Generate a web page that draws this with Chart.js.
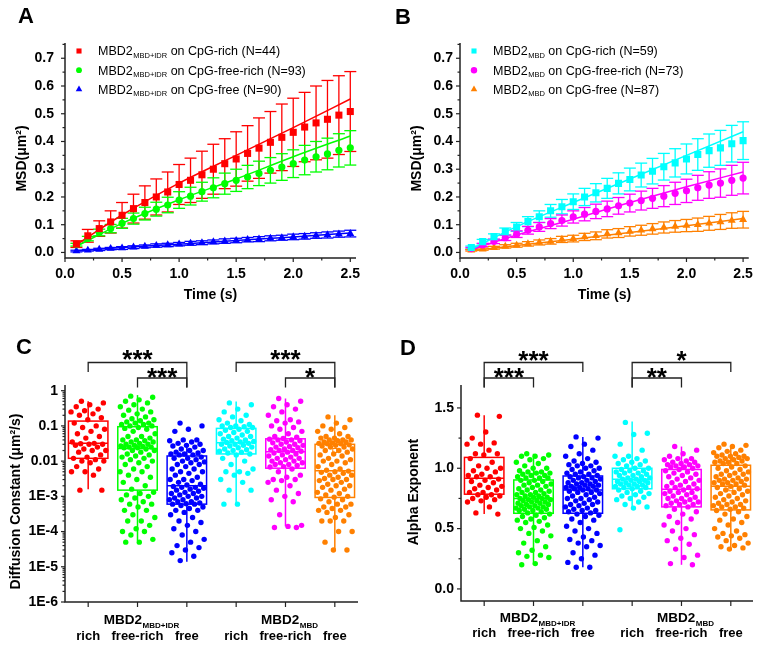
<!DOCTYPE html>
<html>
<head>
<meta charset="utf-8">
<script src="https://cdn.jsdelivr.net/npm/chart.js@4.4.0/dist/chart.umd.min.js"></script>
<style>
  body { margin: 0; background: #fff; }
  #wrap { position: relative; width: 761px; height: 646px; overflow: hidden; }
  #wrap canvas { position: absolute; }
  .panel { position: absolute; font: bold 22px 'Liberation Sans', Arial, sans-serif; line-height: 1; color: #000; }
</style>
</head>
<body>
<div id="wrap">
  <canvas id="chartA" width="380" height="320" style="left:0;top:0"></canvas>
  <canvas id="chartB" width="381" height="320" style="left:380px;top:0"></canvas>
  <canvas id="chartC" width="380" height="326" style="left:0;top:320px"></canvas>
  <canvas id="chartD" width="381" height="326" style="left:380px;top:320px"></canvas>
  <div class="panel" style="left:18px;top:5px">A</div>
  <div class="panel" style="left:395px;top:6px">B</div>
  <div class="panel" style="left:16px;top:336px">C</div>
  <div class="panel" style="left:400px;top:337px">D</div>
</div>
<script>
const FONT = "'Liberation Sans', Arial, Helvetica, sans-serif";
Chart.defaults.font.family = FONT;
Chart.defaults.color = '#000';

const RED = '#ff0000', GREEN = '#00ff00', BLUE = '#0000ff';
const CYAN = '#00ffff', MAGENTA = '#ff00ff', ORANGE = '#ff8000';

// ---------- MSD curves (A, B) ----------
const times = [0.1, 0.2, 0.3, 0.4, 0.5, 0.6, 0.7, 0.8, 0.9, 1.0, 1.1, 1.2, 1.3, 1.4, 1.5, 1.6, 1.7, 1.8, 1.9, 2.0, 2.1, 2.2, 2.3, 2.4, 2.5];
const fitTimes = [0.1, 0.5, 1.0, 1.5, 2.0, 2.5];

const aRichMsd = [0.03, 0.06, 0.086, 0.11, 0.134, 0.158, 0.18, 0.2, 0.218, 0.245, 0.26, 0.28, 0.3, 0.32, 0.337, 0.357, 0.376, 0.397, 0.415, 0.433, 0.452, 0.467, 0.48, 0.495, 0.508];
const aRichErr = [0.012, 0.023, 0.028, 0.04, 0.046, 0.052, 0.06, 0.065, 0.072, 0.072, 0.08, 0.085, 0.09, 0.09, 0.098, 0.1, 0.109, 0.111, 0.12, 0.123, 0.125, 0.133, 0.14, 0.142, 0.144];
const aRichFit = [0.028, 0.135, 0.25, 0.35, 0.45, 0.553];
const aFreeRichMsd = [0.028, 0.05, 0.072, 0.086, 0.105, 0.122, 0.14, 0.156, 0.171, 0.189, 0.203, 0.219, 0.233, 0.248, 0.26, 0.272, 0.285, 0.296, 0.308, 0.32, 0.333, 0.345, 0.355, 0.368, 0.377];
const aFreeRichErr = [0.005, 0.008, 0.012, 0.015, 0.018, 0.02, 0.023, 0.025, 0.028, 0.03, 0.032, 0.034, 0.036, 0.038, 0.04, 0.042, 0.044, 0.046, 0.048, 0.05, 0.053, 0.055, 0.057, 0.06, 0.062];
const aFreeRichFit = [0.022, 0.105, 0.19, 0.265, 0.345, 0.42];
const aFreeMsd = [0.005, 0.008, 0.011, 0.014, 0.016, 0.019, 0.022, 0.025, 0.027, 0.03, 0.033, 0.035, 0.038, 0.041, 0.043, 0.046, 0.048, 0.051, 0.053, 0.056, 0.058, 0.061, 0.063, 0.066, 0.068];
const aFreeErr = [0.003, 0.003, 0.004, 0.004, 0.005, 0.005, 0.005, 0.006, 0.006, 0.006, 0.007, 0.007, 0.007, 0.008, 0.008, 0.008, 0.009, 0.009, 0.009, 0.01, 0.01, 0.01, 0.011, 0.011, 0.012];
const aFreeFit = [0.006, 0.018, 0.03, 0.043, 0.056, 0.07];

const bRichMsd = [0.018, 0.039, 0.057, 0.075, 0.092, 0.111, 0.129, 0.15, 0.165, 0.183, 0.2, 0.215, 0.231, 0.249, 0.263, 0.279, 0.293, 0.309, 0.323, 0.337, 0.353, 0.367, 0.377, 0.392, 0.403];
const bRichErr = [0.005, 0.008, 0.01, 0.013, 0.016, 0.018, 0.021, 0.023, 0.026, 0.028, 0.031, 0.033, 0.036, 0.038, 0.041, 0.043, 0.046, 0.048, 0.051, 0.054, 0.057, 0.06, 0.063, 0.066, 0.068];
const bRichFit = [0.012, 0.093, 0.18, 0.265, 0.35, 0.435];
const bFreeRichMsd = [0.014, 0.027, 0.04, 0.053, 0.066, 0.08, 0.092, 0.104, 0.115, 0.128, 0.138, 0.148, 0.157, 0.168, 0.178, 0.187, 0.195, 0.203, 0.213, 0.222, 0.233, 0.243, 0.25, 0.26, 0.268];
const bFreeRichErr = [0.004, 0.006, 0.008, 0.01, 0.012, 0.014, 0.016, 0.018, 0.02, 0.022, 0.024, 0.026, 0.028, 0.03, 0.032, 0.034, 0.036, 0.038, 0.04, 0.042, 0.045, 0.048, 0.051, 0.054, 0.057];
const bFreeRichFit = [0.01, 0.063, 0.12, 0.18, 0.237, 0.29];
const bFreeMsd = [0.008, 0.012, 0.017, 0.022, 0.026, 0.031, 0.036, 0.04, 0.047, 0.05, 0.056, 0.06, 0.067, 0.07, 0.076, 0.08, 0.085, 0.09, 0.094, 0.097, 0.1, 0.105, 0.11, 0.115, 0.118];
const bFreeErr = [0.003, 0.004, 0.005, 0.006, 0.007, 0.008, 0.009, 0.01, 0.011, 0.012, 0.013, 0.014, 0.015, 0.016, 0.017, 0.018, 0.019, 0.02, 0.021, 0.022, 0.024, 0.025, 0.027, 0.028, 0.03];
const bFreeFit = [0.006, 0.025, 0.048, 0.072, 0.096, 0.122];

// ---------- box plots (C, D) ----------
const catLabels = ['rich', 'free-rich', 'free', 'rich', 'free-rich', 'free'];
const groupNames = ['MBD2', 'MBD2'];
const groupSubs = ['MBD+IDR', 'MBD'];
const groupAt = [1, 4];
const boxColors = [RED, GREEN, BLUE, CYAN, MAGENTA, ORANGE];

const cTickValues = [1e-6, 1e-5, 1e-4, 1e-3, 0.01, 0.1, 1];
const cTickLabels = ['1E-6', '1E-5', '1E-4', '1E-3', '0.01', '0.1', '1'];

const cRichIdr = [0.5, 0.45, 0.4, 0.35, 0.3, 0.27, 0.25, 0.22, 0.2, 0.17, 0.15, 0.12, 0.1, 0.09, 0.08, 0.07, 0.06, 0.05, 0.045, 0.035, 0.032, 0.031, 0.03, 0.03, 0.028, 0.025, 0.022, 0.02, 0.02, 0.018, 0.015, 0.013, 0.012, 0.011, 0.01, 0.01, 0.009, 0.007, 0.006, 0.005, 0.005, 0.004, 0.0015, 0.0015];
const cFreeRichIdr = [0.7, 0.65, 0.55, 0.5, 0.45, 0.4, 0.35, 0.3, 0.28, 0.25, 0.22, 0.2, 0.18, 0.16, 0.15, 0.14, 0.13, 0.12, 0.12, 0.11, 0.11, 0.1, 0.1,
  0.09, 0.085, 0.08, 0.07, 0.06, 0.05, 0.05, 0.045, 0.04, 0.04, 0.038, 0.035, 0.035, 0.032, 0.03, 0.03, 0.028, 0.027, 0.026, 0.025, 0.025, 0.024, 0.024,
  0.022, 0.02, 0.02, 0.018, 0.016, 0.015, 0.014, 0.013, 0.012, 0.011, 0.01, 0.009, 0.008, 0.007, 0.006, 0.005, 0.005, 0.004, 0.0035, 0.003, 0.0025, 0.002, 0.0016,
  0.0013, 0.0012, 0.0011, 0.001, 0.0009, 0.0008, 0.0007, 0.0006, 0.0006, 0.0005, 0.0004, 0.0004, 0.0003, 0.00025, 0.0002, 0.0002, 0.00015, 0.00012, 0.0001, 0.0001, 0.00008, 0.00006, 0.00005, 0.00005];
const cFreeIdr = [0.12, 0.1, 0.08, 0.07, 0.04, 0.04, 0.038, 0.035, 0.032, 0.03, 0.028, 0.027, 0.025, 0.022, 0.02, 0.02, 0.018, 0.017, 0.016, 0.016, 0.015, 0.015,
  0.013, 0.012, 0.012, 0.011, 0.01, 0.0095, 0.009, 0.008, 0.008, 0.007, 0.006, 0.006, 0.005, 0.005, 0.0045, 0.004, 0.0035, 0.003, 0.003, 0.0028, 0.0025, 0.0022, 0.0021,
  0.0019, 0.0018, 0.0018, 0.0017, 0.0016, 0.0015, 0.0014, 0.0013, 0.0012, 0.0012, 0.0011, 0.001, 0.001, 0.0009, 0.0009, 0.0008, 0.0008, 0.0007, 0.0007, 0.00065, 0.00062, 0.0006, 0.0006,
  0.00055, 0.0005, 0.00045, 0.0004, 0.0004, 0.00035, 0.0003, 0.00025, 0.0002, 0.00018, 0.00015, 0.00012, 0.0001, 0.00008, 0.00006, 0.00005, 0.00004, 0.000035, 0.00003, 0.000025, 0.00002, 0.000015];
const cRichMbd = [0.45, 0.4, 0.3, 0.25, 0.2, 0.18, 0.15, 0.14, 0.12, 0.11, 0.1, 0.1, 0.095, 0.09, 0.09,
  0.08, 0.075, 0.07, 0.065, 0.06, 0.055, 0.05, 0.05, 0.045, 0.042, 0.04, 0.038, 0.036, 0.035, 0.034,
  0.032, 0.03, 0.03, 0.028, 0.027, 0.025, 0.024, 0.022, 0.021, 0.02, 0.019, 0.018, 0.017, 0.016, 0.015,
  0.012, 0.01, 0.008, 0.006, 0.005, 0.005, 0.0045, 0.004, 0.003, 0.0025, 0.0015, 0.0015, 0.0006, 0.0006];
const cFreeRichMbd = [0.6, 0.5, 0.4, 0.35, 0.3, 0.25, 0.2, 0.15, 0.14, 0.13, 0.12, 0.1, 0.09, 0.08, 0.07, 0.06, 0.05, 0.048,
  0.044, 0.042, 0.04, 0.04, 0.038, 0.035, 0.033, 0.03, 0.03, 0.028, 0.026, 0.025, 0.024, 0.022, 0.021, 0.02, 0.02, 0.019,
  0.018, 0.017, 0.016, 0.015, 0.014, 0.013, 0.012, 0.012, 0.011, 0.01, 0.01, 0.009, 0.009, 0.008, 0.008, 0.0075, 0.007, 0.0068,
  0.006, 0.005, 0.004, 0.0035, 0.003, 0.003, 0.0028, 0.0025, 0.002, 0.0015, 0.0012, 0.001, 0.0008, 0.0007, 0.0003, 0.00015, 0.00014, 0.00013, 0.00013];
const cFreeMbd = [0.18, 0.15, 0.12, 0.1, 0.09, 0.08, 0.07, 0.06, 0.05, 0.05, 0.045, 0.045, 0.04, 0.04, 0.04, 0.038, 0.035, 0.035, 0.033, 0.032, 0.031, 0.031,
  0.029, 0.028, 0.027, 0.025, 0.025, 0.022, 0.02, 0.02, 0.018, 0.016, 0.015, 0.014, 0.012, 0.011, 0.01, 0.01, 0.009, 0.008, 0.007, 0.006, 0.0055, 0.0052,
  0.005, 0.0048, 0.0045, 0.004, 0.004, 0.0035, 0.0032, 0.003, 0.003, 0.0028, 0.0025, 0.0022, 0.002, 0.002, 0.0018, 0.0016, 0.0015, 0.0013, 0.0012, 0.0011, 0.001, 0.00095,
  0.00085, 0.0008, 0.0007, 0.0006, 0.0006, 0.0005, 0.0005, 0.00045, 0.0004, 0.0004, 0.00035, 0.0003, 0.00025, 0.0002, 0.0002, 0.0002, 0.0001, 0.0001, 0.00005, 0.00003, 0.00003];

const cQ1 = [0.012, 0.0015, 0.0006, 0.016, 0.0063, 0.00093];
const cMedian = [0.032, 0.023, 0.002, 0.033, 0.0185, 0.0053];
const cQ3 = [0.137, 0.095, 0.014, 0.085, 0.043, 0.03];
const cLow = [0.0016, 0.000054, 0.000014, 0.0006, 0.00014, 0.000028];
const cHigh = [0.5, 0.75, 0.032, 0.49, 0.6, 0.2];
const cMean = [null, null, null, null, null, 0.02];

const dRichIdr = [1.44, 1.43, 1.3, 1.25, 1.21, 1.2, 1.2, 1.15, 1.12, 1.12, 1.11,
  1.08, 1.05, 1.02, 1.0, 1.0, 0.98, 0.97, 0.95, 0.94, 0.93, 0.93,
  0.91, 0.9, 0.89, 0.88, 0.86, 0.85, 0.84, 0.83, 0.82, 0.8, 0.8,
  0.78, 0.78, 0.77, 0.76, 0.75, 0.74, 0.73, 0.72, 0.68, 0.63, 0.62];
const dFreeRichIdr = [1.12, 1.11, 1.1, 1.1, 1.08, 1.07, 1.05, 1.04, 1.02, 1.0, 1.0, 0.98, 0.97, 0.97, 0.96, 0.96, 0.95, 0.94, 0.94, 0.93, 0.92, 0.92, 0.92,
  0.9, 0.9, 0.89, 0.88, 0.87, 0.86, 0.86, 0.85, 0.84, 0.83, 0.82, 0.82, 0.81, 0.8, 0.8, 0.79, 0.78, 0.78, 0.77, 0.77, 0.76, 0.76, 0.75,
  0.75, 0.74, 0.74, 0.73, 0.73, 0.72, 0.72, 0.71, 0.71, 0.7, 0.7, 0.69, 0.69, 0.68, 0.68, 0.67, 0.67, 0.66, 0.66, 0.65, 0.65, 0.64, 0.63,
  0.62, 0.61, 0.6, 0.59, 0.58, 0.57, 0.56, 0.55, 0.53, 0.51, 0.5, 0.48, 0.46, 0.44, 0.4, 0.38, 0.35, 0.32, 0.3, 0.28, 0.27, 0.26, 0.21, 0.2];
const dFreeIdr = [1.26, 1.25, 1.2, 1.18, 1.15, 1.12, 1.1, 1.08, 1.06, 1.05, 1.04, 1.03, 1.02, 1.02, 1.0, 1.0, 0.99, 0.98, 0.97, 0.96, 0.95, 0.95,
  0.94, 0.93, 0.93, 0.92, 0.92, 0.91, 0.9, 0.9, 0.89, 0.88, 0.88, 0.87, 0.87, 0.86, 0.86, 0.85, 0.85, 0.84, 0.84, 0.83, 0.83, 0.82, 0.82,
  0.81, 0.8, 0.8, 0.79, 0.78, 0.77, 0.76, 0.75, 0.75, 0.74, 0.73, 0.72, 0.71, 0.7, 0.7, 0.69, 0.68, 0.67, 0.66, 0.65, 0.65, 0.64, 0.63,
  0.62, 0.61, 0.6, 0.58, 0.57, 0.55, 0.52, 0.5, 0.48, 0.46, 0.43, 0.41, 0.4, 0.38, 0.36, 0.35, 0.3, 0.28, 0.25, 0.22, 0.18, 0.18];
const dRichMbd = [1.38, 1.29, 1.28, 1.2, 1.15, 1.1, 1.1, 1.08, 1.07, 1.06, 1.05, 1.04, 1.03, 1.02,
  1.0, 1.0, 0.99, 0.98, 0.98, 0.97, 0.96, 0.96, 0.95, 0.94, 0.94, 0.93, 0.92, 0.92, 0.91,
  0.91, 0.9, 0.9, 0.89, 0.89, 0.88, 0.88, 0.87, 0.87, 0.86, 0.86, 0.85, 0.85, 0.84, 0.84,
  0.83, 0.82, 0.81, 0.8, 0.79, 0.78, 0.77, 0.76, 0.75, 0.74, 0.72, 0.7, 0.68, 0.67, 0.49];
const dFreeRichMbd = [1.18, 1.15, 1.12, 1.1, 1.08, 1.08, 1.07, 1.06, 1.05, 1.05, 1.04, 1.03, 1.03, 1.02, 1.02, 1.01, 1.01, 1.0,
  0.99, 0.98, 0.97, 0.96, 0.95, 0.94, 0.93, 0.92, 0.91, 0.9, 0.89, 0.88, 0.87, 0.86, 0.85, 0.84, 0.84, 0.83,
  0.82, 0.81, 0.8, 0.8, 0.79, 0.78, 0.77, 0.76, 0.75, 0.75, 0.74, 0.73, 0.72, 0.72, 0.71, 0.7, 0.7, 0.69,
  0.68, 0.66, 0.64, 0.62, 0.6, 0.58, 0.55, 0.53, 0.5, 0.48, 0.45, 0.42, 0.4, 0.37, 0.33, 0.28, 0.26, 0.21, 0.2];
const dFreeMbd = [1.2, 1.19, 1.18, 1.17, 1.15, 1.14, 1.13, 1.12, 1.11, 1.1, 1.1, 1.1, 1.09, 1.08, 1.08, 1.07, 1.06, 1.06, 1.05, 1.05, 1.04, 1.04,
  1.02, 1.01, 1.0, 0.99, 0.98, 0.97, 0.96, 0.95, 0.95, 0.94, 0.93, 0.92, 0.91, 0.91, 0.9, 0.9, 0.89, 0.88, 0.88, 0.87, 0.87, 0.86,
  0.85, 0.84, 0.83, 0.82, 0.81, 0.8, 0.79, 0.78, 0.77, 0.76, 0.75, 0.74, 0.73, 0.72, 0.71, 0.7, 0.7, 0.69, 0.68, 0.68, 0.67, 0.66,
  0.65, 0.64, 0.62, 0.6, 0.58, 0.57, 0.55, 0.53, 0.5, 0.48, 0.46, 0.45, 0.44, 0.43, 0.42, 0.4, 0.38, 0.36, 0.35, 0.34, 0.33];

const dQ1 = [0.785, 0.627, 0.627, 0.83, 0.68, 0.655];
const dMedian = [0.917, 0.75, 0.82, 0.909, 0.826, 0.85];
const dQ3 = [1.09, 0.903, 0.936, 1.0, 0.99, 1.025];
const dLow = [0.62, 0.2, 0.18, 0.66, 0.2, 0.32];
const dHigh = [1.44, 1.12, 1.26, 1.387, 1.18, 1.19];
const dMean = [null, null, null, null, null, 0.83];

// significance brackets: from / to category, row (0 = upper), label
const cBrFrom = [0, 1, 3, 4];
const cBrTo = [2, 2, 5, 5];
const cBrRow = [0, 1, 0, 1];
const cBrText = ['***', '***', '***', '*'];
const dBrFrom = [0, 0, 3, 3];
const dBrTo = [2, 1, 5, 4];
const dBrRow = [0, 1, 0, 1];
const dBrText = ['***', '***', '*', '**'];

// ---------- drawing helpers ----------
function drawMarker(ctx, style, x, y, r) {
  ctx.beginPath();
  if (style === 'rect') {
    const s = r * Math.SQRT1_2;
    ctx.rect(x - s, y - s, 2 * s, 2 * s);
  } else if (style === 'triangle') {
    ctx.moveTo(x, y - r);
    ctx.lineTo(x + r * 0.866, y + r * 0.5);
    ctx.lineTo(x - r * 0.866, y + r * 0.5);
    ctx.closePath();
  } else {
    ctx.arc(x, y, r, 0, Math.PI * 2);
  }
  ctx.fill();
}

function seg(ctx, x1, y1, x2, y2) {
  ctx.beginPath();
  ctx.moveTo(x1, y1);
  ctx.lineTo(x2, y2);
  ctx.stroke();
}

// text with a subscript part; returns nothing, draws from x (left aligned)
function subText(ctx, x, base, main, sub, rest, size, subSize, subDy, weight) {
  ctx.textAlign = 'left';
  ctx.textBaseline = 'alphabetic';
  ctx.font = weight + ' ' + size + 'px ' + FONT;
  ctx.fillText(main, x, base);
  x += ctx.measureText(main).width + 0.5;
  ctx.font = weight + ' ' + subSize + 'px ' + FONT;
  ctx.fillText(sub, x, base + subDy);
  x += ctx.measureText(sub).width;
  if (rest) {
    ctx.font = weight + ' ' + size + 'px ' + FONT;
    ctx.fillText(rest, x, base);
  }
}

function subTextWidth(ctx, main, sub, size, subSize, weight) {
  ctx.font = weight + ' ' + size + 'px ' + FONT;
  let w = ctx.measureText(main).width + 0.5;
  ctx.font = weight + ' ' + subSize + 'px ' + FONT;
  return w + ctx.measureText(sub).width;
}

function linearMinor(scale) {
  const vals = scale.ticks.map(t => t.value);
  const step = vals[1] - vals[0];
  const out = [];
  vals.forEach(v => {
    [v - step / 2, v + step / 2].forEach(m => {
      if (m >= scale.min && m <= scale.max && !out.some(o => Math.abs(o - m) < 1e-9)) out.push(m);
    });
  });
  return out;
}

function logMinor(scale) {
  const out = [];
  scale.ticks.forEach(t => {
    for (let k = 2; k <= 9; k++) {
      const m = t.value * k;
      if (m <= scale.max) out.push(m);
    }
  });
  return out;
}

// axis lines, tick marks and axis titles
const framePlugin = {
  id: 'frame',
  afterDraw(chart) {
    const o = chart.options.plugins.frame;
    const { ctx, chartArea: a } = chart;
    const x = chart.scales.x, y = chart.scales.y;
    ctx.save();
    ctx.strokeStyle = '#222';
    ctx.lineWidth = 1.5;
    ctx.beginPath();
    ctx.moveTo(a.left, a.top);
    ctx.lineTo(a.left, a.bottom);
    ctx.lineTo(a.right, a.bottom);
    ctx.stroke();
    ctx.lineWidth = 1.2;
    y.ticks.forEach(t => { const p = y.getPixelForValue(t.value); seg(ctx, a.left - 4, p, a.left, p); });
    (o.logY ? logMinor(y) : linearMinor(y)).forEach(v => { const p = y.getPixelForValue(v); seg(ctx, a.left - 2.5, p, a.left, p); });
    if (o.xTicks) {
      x.ticks.forEach(t => { const p = x.getPixelForValue(t.value); seg(ctx, p, a.bottom, p, a.bottom + 4); });
      linearMinor(x).forEach(v => { const p = x.getPixelForValue(v); seg(ctx, p, a.bottom, p, a.bottom + 2.5); });
    }
    ctx.fillStyle = '#000';
    ctx.font = 'bold 14px ' + FONT;
    ctx.textAlign = 'center';
    ctx.textBaseline = 'middle';
    if (o.xTitle) ctx.fillText(o.xTitle, (a.left + a.right) / 2, a.bottom + o.xTitleDy);
    ctx.translate(a.left - o.yTitleDx, (a.top + a.bottom) / 2 + o.yTitleDy);
    ctx.rotate(-Math.PI / 2);
    ctx.fillText(o.yTitle, 0, 0);
    ctx.restore();
  }
};

// error bars for the MSD points
const errorBarPlugin = {
  id: 'errbars',
  beforeDatasetsDraw(chart) {
    const { ctx } = chart;
    const x = chart.scales.x, y = chart.scales.y;
    ctx.save();
    ctx.lineWidth = 1.3;
    chart.data.datasets.forEach(ds => {
      if (!ds.errors) return;
      ctx.strokeStyle = ds.borderColor;
      ds.data.forEach((pt, i) => {
        const px = x.getPixelForValue(pt.x);
        const hi = y.getPixelForValue(pt.y + ds.errors[i]);
        const lo = y.getPixelForValue(pt.y - ds.errors[i]);
        seg(ctx, px, hi, px, lo);
        seg(ctx, px - 6, hi, px + 6, hi);
        seg(ctx, px - 6, lo, px + 6, lo);
      });
    });
    ctx.restore();
  }
};

// legend with subscripts
const msdLegendPlugin = {
  id: 'msdLegend',
  afterDraw(chart) {
    const items = chart.options.plugins.msdLegend.items;
    const { ctx, chartArea: a } = chart;
    ctx.save();
    items.forEach((s, i) => {
      const rowY = a.top + 8 + i * 19.2;
      ctx.fillStyle = s.color;
      drawMarker(ctx, s.style, a.left + 14, rowY, s.legendR);
      ctx.fillStyle = '#000';
      subText(ctx, a.left + 33, rowY + 4.3, s.main, s.sub, s.rest, 12.5, 7.5, 2.5, 'normal');
    });
    ctx.restore();
  }
};

// boxes, category axis, brackets
const boxPlugin = {
  id: 'boxes',
  afterDatasetsDraw(chart) {
    const o = chart.options.plugins.boxes;
    const { ctx, chartArea: a } = chart;
    const x = chart.scales.x, y = chart.scales.y;
    const hw = x.getPixelForValue(0.4) - x.getPixelForValue(0);
    ctx.save();
    ctx.lineWidth = 1.5;
    o.q1.forEach((q1, g) => {
      const cx = x.getPixelForValue(g);
      const top = y.getPixelForValue(o.q3[g]);
      const bot = y.getPixelForValue(q1);
      const med = y.getPixelForValue(o.median[g]);
      ctx.strokeStyle = o.colors[g];
      ctx.strokeRect(cx - hw, top, 2 * hw, bot - top);
      seg(ctx, cx - hw, med, cx + hw, med);
      seg(ctx, cx, top, cx, y.getPixelForValue(o.high[g]));
      seg(ctx, cx, bot, cx, y.getPixelForValue(o.low[g]));
      if (o.mean[g] !== null) {
        const my = y.getPixelForValue(o.mean[g]);
        ctx.lineWidth = 1;
        ctx.strokeRect(cx - 2, my - 2, 4, 4);
        ctx.lineWidth = 1.5;
      }
    });
    ctx.restore();
  },
  afterDraw(chart) {
    const o = chart.options.plugins.boxes;
    const { ctx, chartArea: a } = chart;
    const x = chart.scales.x;
    ctx.save();
    ctx.strokeStyle = '#222';
    ctx.fillStyle = '#000';
    ctx.lineWidth = 1.2;
    catLabels.forEach((lab, i) => {
      const px = x.getPixelForValue(i);
      seg(ctx, px, a.bottom, px, a.bottom + 5);
      ctx.font = 'bold 13px ' + FONT;
      ctx.textAlign = 'center';
      ctx.textBaseline = 'alphabetic';
      ctx.fillText(lab, px, a.bottom + o.catDy);
    });
    groupAt.forEach((g, i) => {
      const w = subTextWidth(ctx, groupNames[i], groupSubs[i], 13.5, 8, 'bold');
      subText(ctx, x.getPixelForValue(g) - w / 2 + 4, a.bottom + o.groupDy, groupNames[i], groupSubs[i], '', 13.5, 8, 4, 'bold');
    });
    // brackets
    const rowY = [a.top - 22.5, a.top - 7];
    const drop = 9.5;
    ctx.lineWidth = 1.3;
    o.brFrom.forEach((f, i) => {
      const t = o.brTo[i];
      const ly = rowY[o.brRow[i]];
      const x1 = x.getPixelForValue(f), x2 = x.getPixelForValue(t);
      const endFor = idx => {
        const shared = o.brRow[i] === 0 && o.brFrom.some((ff, j) => o.brRow[j] === 1 && (ff === idx || o.brTo[j] === idx));
        return shared ? rowY[1] + drop : ly + drop;
      };
      ctx.beginPath();
      ctx.moveTo(x1, endFor(f));
      ctx.lineTo(x1, ly);
      ctx.lineTo(x2, ly);
      ctx.lineTo(x2, endFor(t));
      ctx.stroke();
      ctx.font = 'bold 26px ' + FONT;
      ctx.textAlign = 'center';
      ctx.textBaseline = 'alphabetic';
      ctx.fillText(o.brText[i], (x1 + x2) / 2, ly - o.starGap[o.brRow[i]] + 14.5);
    });
    ctx.restore();
  }
};

// ---------- chart builders ----------
function msdChart(id, series, yAxisWidth, rightPad, yLabelPad) {
  const datasets = [];
  series.forEach(s => {
    datasets.push({
      type: 'line', showLine: true, order: 2,
      data: fitTimes.map((t, i) => ({ x: t, y: s.fit[i] })),
      borderColor: s.color, borderWidth: 1.5, pointRadius: 0, fill: false,
      cubicInterpolationMode: 'monotone'
    });
  });
  series.forEach(s => {
    datasets.push({
      type: 'scatter', order: 1,
      data: times.map((t, i) => ({ x: t, y: s.msd[i] })),
      errors: s.err,
      pointStyle: s.style, pointRadius: s.r,
      backgroundColor: s.color, borderColor: s.color, pointBorderWidth: 0
    });
  });
  return new Chart(document.getElementById(id), {
    type: 'scatter',
    data: { datasets },
    plugins: [errorBarPlugin, framePlugin, msdLegendPlugin],
    options: {
      responsive: false, animation: false, events: [],
      layout: { padding: { left: 0, top: 43, right: rightPad, bottom: 0 } },
      scales: {
        x: {
          type: 'linear', min: 0, max: 2.55,
          grid: { display: false, drawTicks: false }, border: { display: false },
          ticks: { stepSize: 0.5, includeBounds: false, autoSkip: false, maxRotation: 0, padding: 8,
                   font: { size: 14, weight: 'bold' }, color: '#000', callback: v => v.toFixed(1) },
          afterFit: s => { s.height = 62; }
        },
        y: {
          type: 'linear', min: -0.02, max: 0.755,
          grid: { display: false, drawTicks: false }, border: { display: false },
          ticks: { stepSize: 0.1, includeBounds: false, autoSkip: false, padding: yLabelPad,
                   font: { size: 14, weight: 'bold' }, color: '#000', callback: v => v.toFixed(1) },
          afterFit: s => { s.width = yAxisWidth; }
        }
      },
      plugins: {
        legend: { display: false }, tooltip: { enabled: false },
        frame: { xTicks: true, xTitle: 'Time (s)', xTitleDy: 37, yTitle: 'MSD(\u03bcm\u00b2)', yTitleDx: 43, yTitleDy: 8 },
        msdLegend: { items: series }
      }
    }
  });
}

function jitter(i) {
  return (((i + 0.5) * 0.6180339887) % 1 - 0.5) * 0.72;
}

function boxChart(id, groups, stats, yScale, frame, layout) {
  const datasets = groups.map((vals, g) => ({
    type: 'scatter',
    data: vals.map((v, i) => ({ x: g + jitter(i), y: v })),
    pointStyle: 'circle', pointRadius: 2.7,
    backgroundColor: boxColors[g], borderColor: boxColors[g], pointBorderWidth: 0
  }));
  return new Chart(document.getElementById(id), {
    type: 'scatter',
    data: { datasets },
    plugins: [boxPlugin, framePlugin],
    options: {
      responsive: false, animation: false, events: [],
      layout: { padding: layout.padding },
      scales: {
        x: { type: 'linear', min: -0.47, max: layout.xMax, display: false },
        y: Object.assign({
          grid: { display: false, drawTicks: false }, border: { display: false },
          afterFit: s => { s.width = layout.yWidth; }
        }, yScale)
      },
      plugins: {
        legend: { display: false }, tooltip: { enabled: false },
        frame: frame,
        boxes: Object.assign({ colors: boxColors }, stats)
      }
    }
  });
}

// ---------- build ----------
msdChart('chartA', [
  { main: 'MBD2', sub: 'MBD+IDR', rest: ' on CpG-rich (N=44)', color: RED, style: 'rect', r: 5, legendR: 3.6, msd: aRichMsd, err: aRichErr, fit: aRichFit },
  { main: 'MBD2', sub: 'MBD+IDR', rest: ' on CpG-free-rich (N=93)', color: GREEN, style: 'circle', r: 3.6, legendR: 2.9, msd: aFreeRichMsd, err: aFreeRichErr, fit: aFreeRichFit },
  { main: 'MBD2', sub: 'MBD+IDR', rest: ' on CpG-free (N=90)', color: BLUE, style: 'triangle', r: 4.6, legendR: 3.8, msd: aFreeMsd, err: aFreeErr, fit: aFreeFit }
], 65, 24, 11);

msdChart('chartB', [
  { main: 'MBD2', sub: 'MBD', rest: ' on CpG-rich (N=59)', color: CYAN, style: 'rect', r: 5, legendR: 3.6, msd: bRichMsd, err: bRichErr, fit: bRichFit },
  { main: 'MBD2', sub: 'MBD', rest: ' on CpG-free-rich (N=73)', color: MAGENTA, style: 'circle', r: 3.6, legendR: 3.2, msd: bFreeRichMsd, err: bFreeRichErr, fit: bFreeRichFit },
  { main: 'MBD2', sub: 'MBD', rest: ' on CpG-free (N=87)', color: ORANGE, style: 'triangle', r: 4.6, legendR: 3.8, msd: bFreeMsd, err: bFreeErr, fit: bFreeFit }
], 80, 9, 7);

boxChart('chartC',
  [cRichIdr, cFreeRichIdr, cFreeIdr, cRichMbd, cFreeRichMbd, cFreeMbd],
  { q1: cQ1, median: cMedian, q3: cQ3, low: cLow, high: cHigh, mean: cMean,
    brFrom: cBrFrom, brTo: cBrTo, brRow: cBrRow, brText: cBrText, starGap: [9.5, 6.5], catDy: 38, groupDy: 22 },
  {
    type: 'logarithmic', min: 1e-6, max: 1.45,
    afterBuildTicks: s => { s.ticks = cTickValues.map(v => ({ value: v })); },
    ticks: { autoSkip: false, padding: 7, font: { size: 14, weight: 'bold' }, color: '#000',
             callback: (v, i) => cTickLabels[i] }
  },
  { logY: true, xTicks: false, yTitle: 'Diffusion Constant (\u03bcm\u00b2/s)', yTitleDx: 49, yTitleDy: 8 },
  { padding: { left: 0, top: 65, right: 22, bottom: 44 }, yWidth: 65, xMax: 5.47 });

boxChart('chartD',
  [dRichIdr, dFreeRichIdr, dFreeIdr, dRichMbd, dFreeRichMbd, dFreeMbd],
  { q1: dQ1, median: dMedian, q3: dQ3, low: dLow, high: dHigh, mean: dMean,
    brFrom: dBrFrom, brTo: dBrTo, brRow: dBrRow, brText: dBrText, starGap: [8, 6.5], catDy: 36, groupDy: 21 },
  {
    type: 'linear', min: -0.1, max: 1.69,
    ticks: { stepSize: 0.5, includeBounds: false, autoSkip: false, padding: 7,
             font: { size: 14, weight: 'bold' }, color: '#000', callback: v => v.toFixed(1) }
  },
  { logY: false, xTicks: false, yTitle: 'Alpha Exponent', yTitleDx: 47, yTitleDy: -1 },
  { padding: { left: 0, top: 65, right: 8, bottom: 45 }, yWidth: 81, xMax: 5.45 });
</script>
</body>
</html>
